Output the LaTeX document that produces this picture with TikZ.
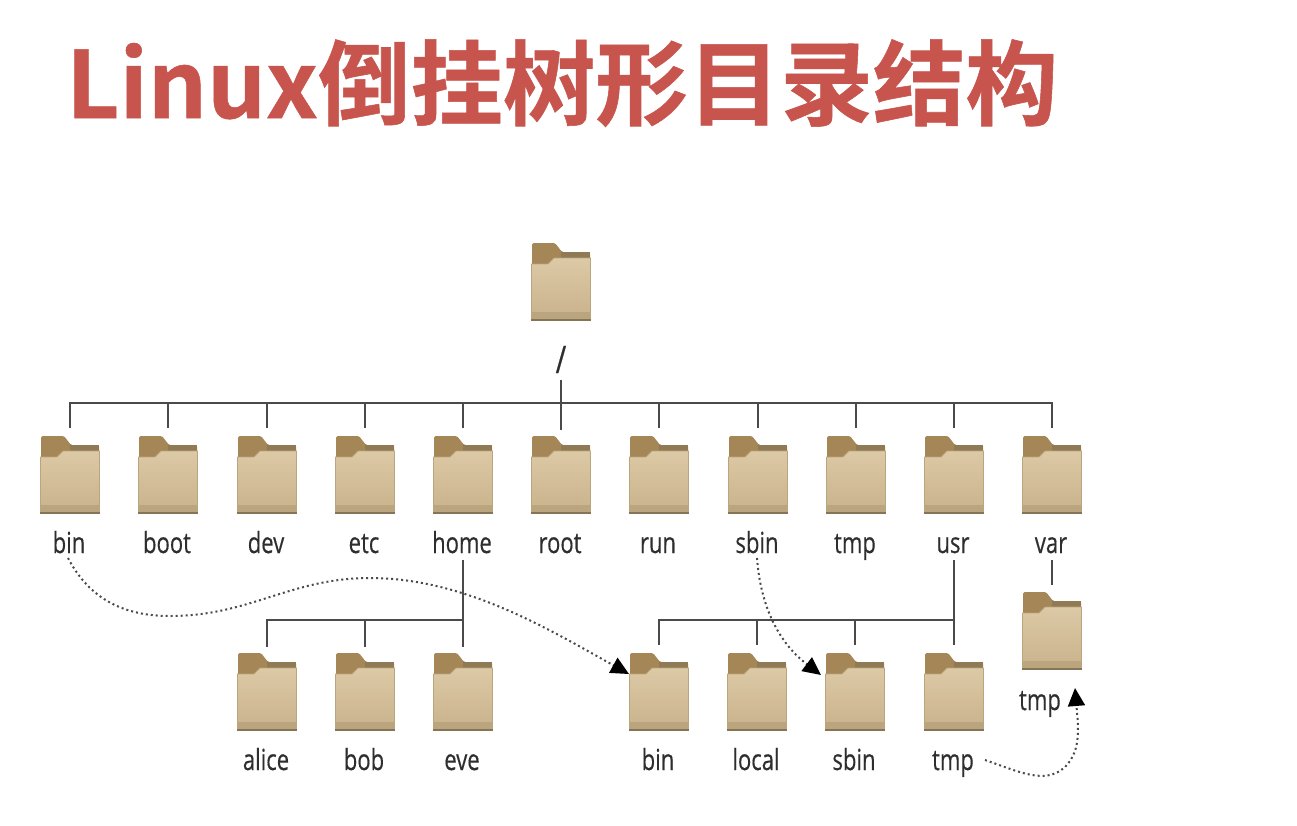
\documentclass[tikz,border=0pt]{standalone}
\usepackage{fontspec}
\setmainfont{Open Sans}
\newfontfamily\titlefont{Noto Sans CJK SC}[BoldFont={Noto Sans CJK SC Bold},BoldFeatures={FakeBold=0.6}]
\newfontfamily\labelfont{Open Sans}[FakeStretch=0.76,FakeBold=0.35]
\usetikzlibrary{arrows.meta}
\definecolor{titlered}{HTML}{C8544E}
\definecolor{tabdark}{HTML}{A58656}
\definecolor{banddark}{HTML}{8F7A55}
\definecolor{fronttop}{HTML}{DCC9A5}
\definecolor{frontbot}{HTML}{C9B28C}
\definecolor{footcol}{HTML}{BBA57F}
\definecolor{edgecol}{HTML}{857456}
\definecolor{linecol}{HTML}{4A4A4A}
\definecolor{textcol}{HTML}{2E2E2E}
\tikzset{
  folderbox/.style={minimum width=60pt,minimum height=78pt,inner sep=0pt,outer sep=0pt},
  lab/.style={font=\labelfont\fontsize{29}{30}\selectfont,text=textcol,inner sep=0pt,anchor=base},
  tree/.style={draw=linecol,line width=2pt},
  jump/.style={draw=linecol,line width=2pt,dash pattern=on 2pt off 3pt,-{Triangle[length=18pt,width=17pt,color=black]}},
  pics/folderart/.style={code={
    \fill[tabdark,rounded corners=1.5pt] (1,0) -- (24,0) -- (31,9) -- (59,9) -- (59,24) -- (1,24) -- cycle;
    \fill[banddark] (30,9) rectangle (59,15);
    \fill[top color=fronttop,bottom color=frontbot,draw=footcol,line width=.8pt]
      (0.5,21) -- (17,21) -- (23,15) -- (59.5,15) -- (59.5,77) -- (0.5,77) -- cycle;
    \fill[footcol] (1,69) rectangle (59,75.5);
    \fill[edgecol] (0,75.5) rectangle (60,78);
  }}
}
\newcommand{\folder}[3]{%
  \pic at (#2-30,#3) {folderart};
  \node[folderbox] (#1) at (#2,#3+39) {};}
\begin{document}
\begin{tikzpicture}[x=1pt,y=-1pt]
\useasboundingbox[fill=white] (0,0) rectangle (1297,825);
\node[anchor=base west,inner sep=0pt,text=titlered,font=\titlefont\bfseries\fontsize{92.5}{92.5}\selectfont] (title) at (66,118) {Linux倒挂树形目录结构};
% root
\folder{root0}{561}{243}
\node[lab,font=\labelfont\fontsize{38}{38}\selectfont] (lslash) at (561,373) {/};
% first row
\foreach \n/\x/\t in {bin/70/bin,boot/168/boot,dev/267/dev,etc/365/etc,home/463/home,root/561/root,run/659/run,sbin/758/sbin,tmpa/856/tmp,usr/954/usr,var/1052/var}{
  \folder{\n}{\x}{436}
  \node[lab] (l\n) at (\x-1,553) {\t};
}
% second row
\foreach \n/\x/\t in {alice/267/alice,bob/365/bob,eve/463/eve,ubin/659/bin,local/757/local,usbin/855/sbin,utmp/954/tmp}{
  \folder{\n}{\x}{653}
  \node[lab] (l\n) at (\x-1,770) {\t};
}
\folder{vtmp}{1052}{592}
\node[lab] (lvtmp) at (1040,710) {tmp};
% tree
\draw[tree] ([yshift=8pt]bin.north) |- ([yshift=33pt]var.north) -- ([yshift=8pt]var.north);
\foreach \n in {boot,dev,etc,home,run,sbin,tmpa,usr}
  \draw[tree] ([yshift=33pt]\n.north) -- ([yshift=8pt]\n.north);
\draw[tree] ([yshift=56pt]root.north) -- ([yshift=6pt]root.north);
\coordinate (homedrop) at (eve.north |- lhome.base);
\coordinate (usrdrop) at (utmp.north |- lusr.base);
\coordinate (vardrop) at (vtmp.north |- lvar.base);
\draw[tree] ([yshift=-7pt]homedrop) -- ([yshift=33pt]eve.north) -| ([yshift=6pt]alice.north);
\draw[tree] ([yshift=33pt]bob.north) -- ([yshift=6pt]bob.north);
\draw[tree] ([yshift=33pt]eve.north) -- ([yshift=6pt]eve.north);
\draw[tree] ([yshift=-7pt]usrdrop) -- ([yshift=8pt]utmp.north);
\draw[tree] ([yshift=33pt]utmp.north) -| ([yshift=8pt]ubin.north);
\draw[tree] ([yshift=33pt]local.north) -- ([yshift=8pt]local.north);
\draw[tree] ([yshift=33pt]usbin.north) -- ([yshift=8pt]usbin.north);
\draw[tree] ([yshift=-7pt]vardrop) -- ([yshift=7pt]vtmp.north);
% links
\coordinate (e1) at (629,674);
\coordinate (e2) at (821,675);
\coordinate (e3) at (1075,688);
\draw[jump] ([yshift=-5pt,xshift=-1pt]lbin.base) .. controls (90,600) and (125,616) .. (170,616)
  .. controls (250,616) and (290,578) .. (370,578) .. controls (465,578) and (550,630) .. (e1);
\draw[jump] ([yshift=-5pt]lsbin.base) .. controls (760,600) and (775,640) .. (e2);
\draw[jump] ([xshift=32pt,yshift=10pt]lutmp.base) .. controls (1020,772) and (1045,785) .. (1065,767) .. controls (1082,750) and (1078,725) .. (e3);
\end{tikzpicture}
\end{document}
